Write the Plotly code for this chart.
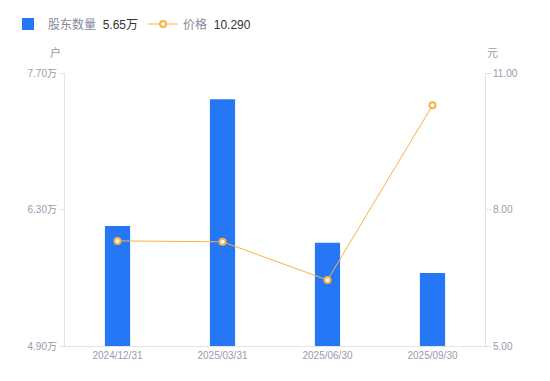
import plotly.graph_objects as go

categories = ["2024/12/31", "2025/03/31", "2025/06/30", "2025/09/30"]
holders_wan = [6.13, 7.43, 5.96, 5.65]
price = [7.31, 7.29, 6.45, 10.29]
left_ticks = [4.90, 6.30, 7.70]
left_ticktext = ["4.90万", "6.30万", "7.70万"]
right_ticks = [5, 8, 11]
right_ticktext = ["5.00", "8.00", "11.00"]

FONT = "Liberation Sans, Arial, Noto Sans CJK SC, sans-serif"
GRAY = "#9a9aab"
AXIS = "#e3e3e8"
NBSP = "\u00a0"

fig = go.Figure()
fig.add_trace(go.Bar(
    x=categories, y=holders_wan,
    name="股东数量" + NBSP + NBSP + "<span style='color:#333333'>5.65万</span>",
    marker=dict(color="#2677f5", line=dict(width=0)), yaxis="y",
))
fig.add_trace(go.Scatter(
    x=categories, y=price,
    name="价格" + NBSP + NBSP + "<span style='color:#333333'>10.290</span>",
    mode="lines+markers", yaxis="y2",
    line=dict(color="#f9b342", width=1),
    marker=dict(symbol="circle", size=6, color="white", line=dict(color="#f9b342", width=2)),
))

fig.update_layout(
    width=550, height=381,
    margin=dict(l=57, r=73, t=65, b=43),
    paper_bgcolor="white", plot_bgcolor="white",
    font=dict(family=FONT, size=10, color=GRAY),
    bargap=0.76,
    showlegend=True,
    legend=dict(orientation="h", xref="container", yref="container", x=-0.023, y=0.958,
                xanchor="left", yanchor="middle", font=dict(size=12, color="#888899"),
                itemwidth=30, tracegroupgap=0),
    xaxis=dict(showgrid=False, showline=True, linecolor=AXIS, linewidth=1, ticks="",
               tickfont=dict(size=10, color=GRAY), zeroline=False),
    yaxis=dict(range=[4.90, 7.70], tickvals=left_ticks, ticktext=left_ticktext,
               showgrid=False, showline=True, linecolor=AXIS, linewidth=1,
               ticks="outside", ticklen=5, tickcolor=AXIS, zeroline=False,
               tickfont=dict(size=10, color=GRAY)),
    yaxis2=dict(range=[5, 11], tickvals=right_ticks, ticktext=right_ticktext,
                overlaying="y", side="right", showgrid=False, showline=True,
                linecolor=AXIS, linewidth=1, ticks="outside", ticklen=5, tickcolor=AXIS,
                zeroline=False, tickfont=dict(size=10, color=GRAY)),
    annotations=[
        dict(text="户", xref="paper", yref="paper", x=-0.005, y=1.045, xanchor="right",
             yanchor="bottom", showarrow=False, font=dict(size=11, color=GRAY)),
        dict(text="元", xref="paper", yref="paper", x=1.0, y=1.045, xanchor="left",
             yanchor="bottom", showarrow=False, font=dict(size=11, color=GRAY)),
    ],
)

fig.write_html("out.html")
